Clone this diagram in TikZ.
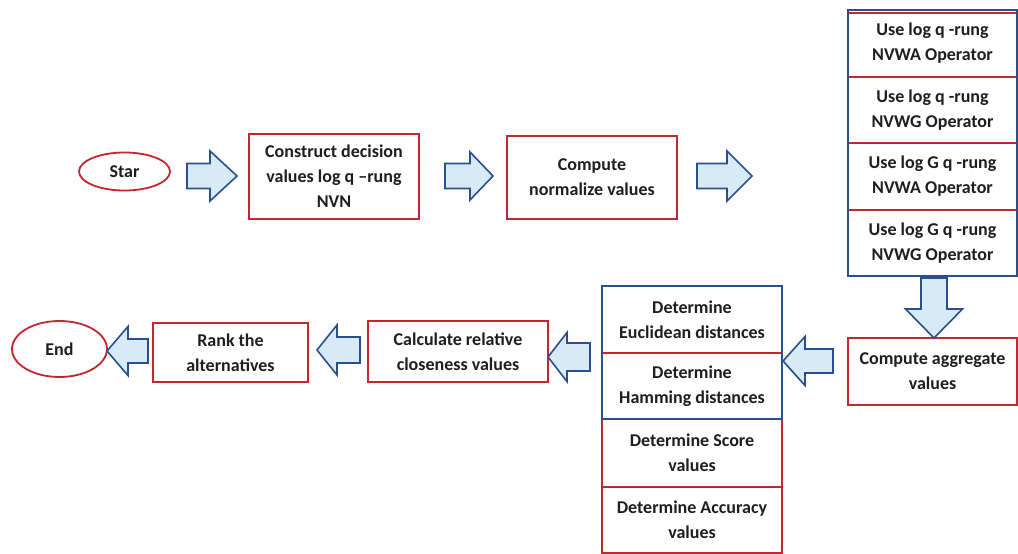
\documentclass[tikz,border=0pt]{standalone}
\usepackage{fontspec}
\setmainfont{Carlito}
\definecolor{myred}{HTML}{C3282E}
\definecolor{myblue}{HTML}{2A4E8E}
\definecolor{myfill}{HTML}{D6EBF6}
\definecolor{mytext}{HTML}{1E1E1E}
\usetikzlibrary{shapes.geometric}
\tikzset{
  txt/.style={font=\bfseries\fontsize{18}{25}\selectfont, text=mytext, align=center, inner sep=0pt},
  rbox/.style={txt, draw=myred, line width=1.8pt},
  cell/.style={txt},
  oval/.style={txt, ellipse, draw=myred, line width=1.8pt},
  barrow/.style={draw=myblue, fill=myfill, line width=1.6pt, line join=miter}
}
% horizontal block arrow: tail x, tip x, y, shaft half width, head half width, head base x
\newcommand\harrow[6]{%
  \draw[barrow] ({#1},{#3-#4}) -- ({#6},{#3-#4}) -- ({#6},{#3-#5}) -- ({#2},{#3})
    -- ({#6},{#3+#5}) -- ({#6},{#3+#4}) -- ({#1},{#3+#4}) -- cycle;}
% vertical block arrow: tail y, tip y, x, shaft half width, head half width, head base y
\newcommand\varrow[6]{%
  \draw[barrow] ({#3-#4},{#1}) -- ({#3-#4},{#6}) -- ({#3-#5},{#6}) -- ({#3},{#2})
    -- ({#3+#5},{#6}) -- ({#3+#4},{#6}) -- ({#3+#4},{#1}) -- cycle;}
\begin{document}
\begin{tikzpicture}[x=1pt,y=-1pt]
\useasboundingbox (0,0) rectangle (1018,554);
\fill[white] (0,0) rectangle (1018,554);

% top row
\node[oval, minimum width=91pt, minimum height=38pt] (star) at (124.5,171.5) {Star};
\node[rbox, minimum width=170pt, minimum height=85pt] (b1) at (334,176.5) {Construct decision\\values log q --rung\\NVN};
\node[rbox, minimum width=170pt, minimum height=83pt] (b2) at (592,177.5) {Compute\\normalize values};

% right stack
\node[cell, minimum width=169pt, minimum height=66.5pt] (r1) at (932.5,43.25) {Use log q -rung\\NVWA Operator};
\node[cell, minimum width=169pt, minimum height=66.5pt] (r2) at (932.5,109.75) {Use log q -rung\\NVWG Operator};
\node[cell, minimum width=169pt, minimum height=66.5pt] (r3) at (932.5,176.25) {Use log G q -rung\\NVWA Operator};
\node[cell, minimum width=169pt, minimum height=66.5pt] (r4) at (932.5,242.75) {Use log G q -rung\\NVWG Operator};
\draw[myred, line width=1.8pt] ([yshift=-3pt]r1.north west) -- ([yshift=-3pt]r1.north east);
\draw[myred, line width=1.8pt] (r1.south west) -- (r1.south east);
\draw[myred, line width=1.8pt] (r2.south west) -- (r2.south east);
\draw[myred, line width=1.8pt] (r3.south west) -- (r3.south east);
\draw[myblue, line width=1.8pt] (r1.north west) rectangle (r4.south east);

\node[rbox, minimum width=169pt, minimum height=67pt] (agg) at (932.5,371.5) {Compute aggregate\\values};

% bottom stack
\node[cell, minimum width=180pt, minimum height=67pt] (d1) at (692,319.5) {Determine\\Euclidean distances};
\node[cell, minimum width=180pt, minimum height=66pt] (d2) at (692,386) {Determine\\Hamming distances};
\node[rbox, minimum width=180pt, minimum height=68pt] (d3) at (692,453) {Determine Score\\values};
\node[rbox, minimum width=180pt, minimum height=66pt] (d4) at (692,520) {Determine Accuracy\\values};
\draw[myred, line width=1.8pt] (d1.south west) -- (d1.south east);
\draw[myblue, line width=1.8pt] (d1.north west) rectangle (d2.south east);

% bottom row
\node[rbox, minimum width=180pt, minimum height=61pt] (calc) at (458,351.5) {Calculate relative\\closeness values};
\node[rbox, minimum width=155pt, minimum height=59pt] (rank) at (230.5,352.5) {Rank the\\alternatives};
\node[oval, minimum width=95pt, minimum height=56pt] (end) at (59.5,349) {End};

% block arrows (star -> b1 -> b2 -> stack -> agg -> d-stack -> calc -> rank -> end)
\harrow{187}{237}{176}{12.5}{25}{210}
\harrow{445}{493}{176}{12.5}{24}{470}
\harrow{697}{752}{176}{12.5}{25}{727}
\varrow{278}{338}{934}{13}{28.5}{309}
\harrow{833}{783}{361}{12}{24.5}{805}
\harrow{590}{548}{357}{14}{24.5}{567}
\harrow{360}{317}{350}{13}{25}{337}
\harrow{148}{107}{351}{12}{24.5}{128}
\end{tikzpicture}
\end{document}
